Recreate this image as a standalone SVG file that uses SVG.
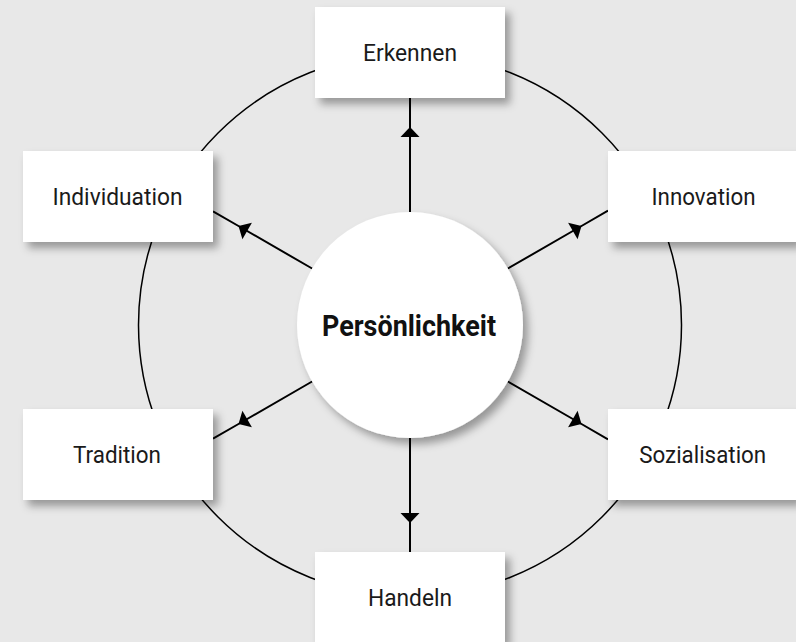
<svg xmlns="http://www.w3.org/2000/svg" width="796" height="642" viewBox="0 0 796 642">
<style>
.box{fill:#fff;filter:url(#sh)}
.lbl{font-family:Roboto,"Liberation Sans",sans-serif;font-size:24.5px;fill:#1a1a1a;text-anchor:middle}
.ctr{font-family:Roboto,"Liberation Sans",sans-serif;font-size:29px;font-weight:bold;fill:#111;text-anchor:middle}
.con{fill:none;stroke:#000;stroke-width:2;marker-mid:url(#ah)}
.ring{fill:none;stroke:#000;stroke-width:1.5}
</style>
<defs>
<filter id="sh" x="-20%" y="-20%" width="150%" height="150%">
<feDropShadow dx="5" dy="6" stdDeviation="4" flood-color="#000" flood-opacity="0.35"/>
</filter>
<marker id="ah" markerUnits="userSpaceOnUse" markerWidth="24" markerHeight="24" viewBox="-12 -12 24 24" refX="0" refY="0" orient="auto">
<path d="M0,0 L-10,-9.5 L-10,9.5 Z" fill="#000"/>
</marker>
</defs>
<rect width="796" height="642" fill="#e8e8e8"/>
<circle class="ring" cx="410" cy="325" r="271.5"/>
<g id="connectors">
<path class="con" d="M410,212 L410,127 L410,98"/>
<path class="con" d="M410,438 L410,523 L410,552"/>
<path class="con" d="M312.1,268.5 L238.5,226 L213,211.3"/>
<path class="con" d="M507.9,268.5 L581.5,226 L608,210.7"/>
<path class="con" d="M312.1,381.5 L238.5,424 L213,438.7"/>
<path class="con" d="M507.9,381.5 L581.5,424 L608,439.3"/>
</g>
<g id="center">
<circle cx="410" cy="325" r="113" fill="#fff" filter="url(#sh)"/>
<text class="ctr" x="409" y="336" textLength="174" lengthAdjust="spacingAndGlyphs">Persönlichkeit</text>
</g>
<g id="erkennen">
<rect class="box" x="315" y="7" width="190" height="91"/>
<text class="lbl" x="410" y="61" textLength="94" lengthAdjust="spacingAndGlyphs">Erkennen</text>
</g>
<g id="individuation">
<rect class="box" x="23" y="151" width="190" height="91"/>
<text class="lbl" x="117.5" y="205" textLength="130" lengthAdjust="spacingAndGlyphs">Individuation</text>
</g>
<g id="innovation">
<rect class="box" x="608" y="151" width="190" height="91"/>
<text class="lbl" x="703.5" y="205" textLength="104" lengthAdjust="spacingAndGlyphs">Innovation</text>
</g>
<g id="tradition">
<rect class="box" x="23" y="409" width="190" height="91"/>
<text class="lbl" x="117" y="463" textLength="88" lengthAdjust="spacingAndGlyphs">Tradition</text>
</g>
<g id="sozialisation">
<rect class="box" x="608" y="409" width="190" height="91"/>
<text class="lbl" x="702.7" y="463" textLength="127" lengthAdjust="spacingAndGlyphs">Sozialisation</text>
</g>
<g id="handeln">
<rect class="box" x="315" y="552" width="190" height="91"/>
<text class="lbl" x="410" y="606" textLength="84" lengthAdjust="spacingAndGlyphs">Handeln</text>
</g>
</svg>
